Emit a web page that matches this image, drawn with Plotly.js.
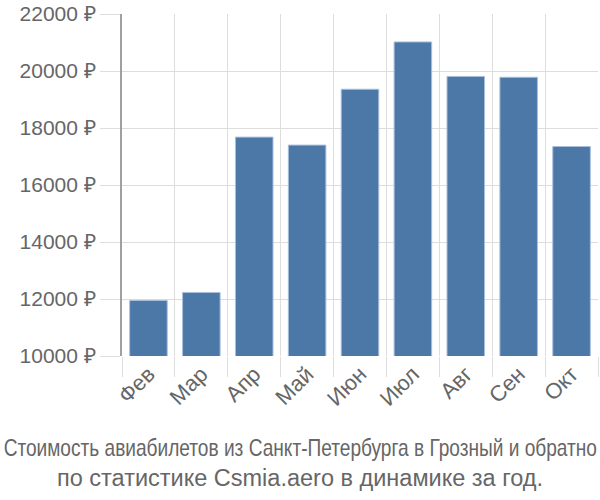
<!DOCTYPE html>
<html>
<head>
<meta charset="utf-8">
<script src="https://cdn.plot.ly/plotly-3.0.1.min.js"></script>
<style>html,body{margin:0;padding:0;background:#fff;}#chart{width:600px;height:500px;}</style>
</head>
<body>
<div id="chart"></div>
<script>
const months = ["Фев","Мар","Апр","Май","Июн","Июл","Авг","Сен","Окт"];
const prices = [11950, 12230, 17680, 17400, 19360, 21020, 19810, 19780, 17350];
const titleLine1 = "Стоимость авиабилетов из Санкт-Петербурга в Грозный и обратно";
const titleLine2 = "по статистике Csmia.aero в динамике за год.";

const font = "'Liberation Sans', Arial, sans-serif";
Plotly.newPlot("chart", [{
  type: "bar",
  x: months,
  y: prices,
  marker: {color: "#4c78a8", line: {color: "#a9bfdb", width: 1}},
  hoverinfo: "none"
}], {
  width: 600, height: 500,
  margin: {l: 122, r: 2, t: 14, b: 144},
  paper_bgcolor: "#fff", plot_bgcolor: "#fff",
  bargap: 0.29,
  showlegend: false,
  xaxis: {
    type: "category",
    tickson: "boundaries",
    ticks: "outside", ticklen: 20, tickcolor: "#dddddd", tickwidth: 1,
    showgrid: true, gridcolor: "#dddddd", gridwidth: 1,
    tickangle: -45,
    tickfont: {family: font, size: 22, color: "#666"},
    showline: false, zeroline: false
  },
  yaxis: {
    range: [10000, 22000],
    dtick: 2000, tick0: 10000,
    tickformat: "d", ticksuffix: " ₽",
    ticks: "outside", ticklen: 20, tickcolor: "#dddddd",
    showgrid: true, gridcolor: "#dddddd", gridwidth: 1,
    showline: true, linecolor: "#a0a0a0", linewidth: 2,
    zeroline: false,
    tickfont: {family: font, size: 21, color: "#666"}
  },
  annotations: [
    {text: titleLine1, xref: "paper", yref: "paper", x: 0.374, y: -0.269, xanchor: "center", yanchor: "middle",
     showarrow: false, font: {family: font, size: 23, color: "#666"}},
    {text: titleLine2, xref: "paper", yref: "paper", x: 0.374, y: -0.357, xanchor: "center", yanchor: "middle",
     showarrow: false, font: {family: font, size: 23.5, color: "#666"}}
  ]
}, {displayModeBar: false, staticPlot: true}).then(function(gd) {
  const texts = gd.querySelectorAll(".annotation-text");
  if (texts.length) {
    const t = texts[0];
    const bb = t.getBBox();
    const sx = 594 / bb.width;
    const cx = bb.x + bb.width / 2;
    t.setAttribute("transform", "translate(" + cx + ",0) scale(" + sx + ",1) translate(" + (-cx) + ",0)");
  }
});
</script>
</body>
</html>
